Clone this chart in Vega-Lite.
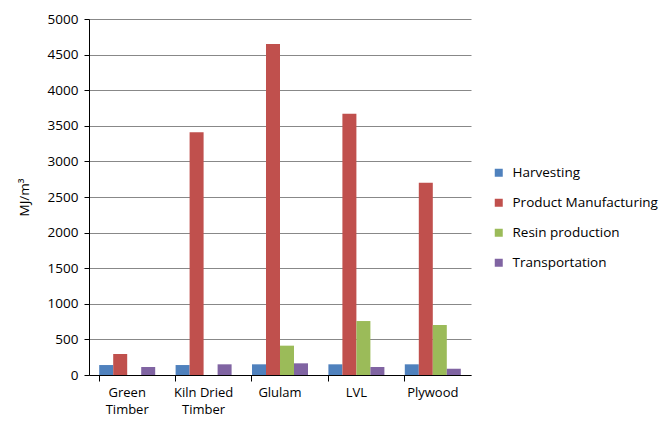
{
  "$schema": "https://vega.github.io/schema/vega-lite/v6.json",
  "width": 382,
  "height": 356,
  "autosize": {"type": "none"},
  "padding": {"left": 89, "top": 19, "right": 198, "bottom": 46},
  "background": "white",
  "config": {
    "font": "Open Sans",
    "view": {"stroke": null}
  },
  "data": {
    "values": [
      {"product": "Green Timber", "stage": "Harvesting", "value": 140},
      {"product": "Green Timber", "stage": "Product Manufacturing", "value": 295},
      {"product": "Green Timber", "stage": "Resin production", "value": 0},
      {"product": "Green Timber", "stage": "Transportation", "value": 112},
      {"product": "Kiln Dried Timber", "stage": "Harvesting", "value": 140},
      {"product": "Kiln Dried Timber", "stage": "Product Manufacturing", "value": 3410},
      {"product": "Kiln Dried Timber", "stage": "Resin production", "value": 0},
      {"product": "Kiln Dried Timber", "stage": "Transportation", "value": 150},
      {"product": "Glulam", "stage": "Harvesting", "value": 150},
      {"product": "Glulam", "stage": "Product Manufacturing", "value": 4648},
      {"product": "Glulam", "stage": "Resin production", "value": 412},
      {"product": "Glulam", "stage": "Transportation", "value": 164},
      {"product": "LVL", "stage": "Harvesting", "value": 150},
      {"product": "LVL", "stage": "Product Manufacturing", "value": 3670},
      {"product": "LVL", "stage": "Resin production", "value": 758},
      {"product": "LVL", "stage": "Transportation", "value": 112},
      {"product": "Plywood", "stage": "Harvesting", "value": 150},
      {"product": "Plywood", "stage": "Product Manufacturing", "value": 2700},
      {"product": "Plywood", "stage": "Resin production", "value": 702},
      {"product": "Plywood", "stage": "Transportation", "value": 88}
    ]
  },
  "mark": {"type": "bar"},
  "encoding": {
    "x": {
      "field": "product",
      "type": "nominal",
      "sort": null,
      "scale": {"paddingInner": 0.267, "paddingOuter": 0.1335},
      "axis": {
        "title": null,
        "labelAngle": 0,
        "labelExpr": "datum.value == 'Green Timber' ? ['Green', 'Timber'] : datum.value == 'Kiln Dried Timber' ? ['Kiln Dried', 'Timber'] : datum.value",
        "labelFontSize": 13,
        "labelColor": "#000000",
        "labelPadding": 5,
        "labelLineHeight": 17,
        "bandPosition": 0,
        "tickColor": "#000000",
        "tickSize": 6,
        "domainColor": "#000000",
        "grid": false
      }
    },
    "xOffset": {"field": "stage", "type": "nominal"},
    "y": {
      "field": "value",
      "type": "quantitative",
      "scale": {"domain": [0, 5000], "nice": false},
      "axis": {
        "title": "MJ/m³",
        "titleFontWeight": "normal",
        "titleFontSize": 13.5,
        "titleColor": "#000000",
        "titlePadding": 16,
        "format": "d",
        "values": [0, 500, 1000, 1500, 2000, 2500, 3000, 3500, 4000, 4500, 5000],
        "labelFontSize": 13.5,
        "labelColor": "#000000",
        "labelPadding": 6,
        "tickColor": "#000000",
        "tickSize": 5,
        "domainColor": "#000000",
        "gridColor": "#888888",
        "gridWidth": 1
      }
    },
    "color": {
      "field": "stage",
      "type": "nominal",
      "scale": {
        "domain": ["Harvesting", "Product Manufacturing", "Resin production", "Transportation"],
        "range": ["#4F81BD", "#C0504D", "#9BBB59", "#8064A2"]
      },
      "legend": {
        "title": null,
        "orient": "none",
        "legendX": 403,
        "legendY": 147,
        "symbolType": "square",
        "symbolSize": 64,
        "symbolStrokeWidth": 0,
        "labelFontSize": 13.5,
        "labelColor": "#000000",
        "labelOffset": 7,
        "labelLimit": 300,
        "rowPadding": 15
      }
    }
  }
}
